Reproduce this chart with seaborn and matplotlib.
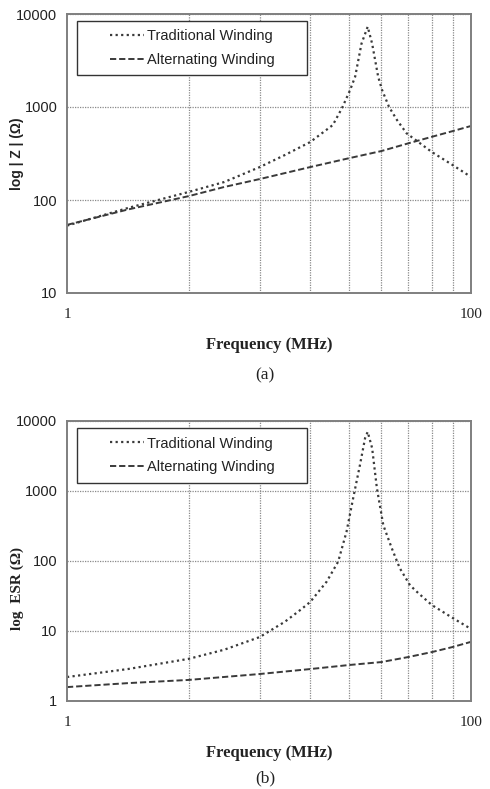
import numpy as np
import pandas as pd
import matplotlib
matplotlib.use("Agg")
import matplotlib.pyplot as plt
from matplotlib.patches import Rectangle
from matplotlib.lines import Line2D
import seaborn as sns

# ---------------- data ----------------
z_trad_freq = [1, 2, 4, 6, 9, 12, 16, 20.7, 23, 25.2, 26.7, 28.7, 30.8,
               32.4, 34.7, 36.3, 39.3, 43, 48, 64, 81, 100]
z_trad_val = [53, 82, 122, 156, 226, 305, 420, 640, 976, 1520, 2120, 4800, 7300,
              4800, 2120, 1520, 1000, 725, 521, 328, 238, 177]

z_alt_freq = [1, 2, 4, 6, 9, 16, 25, 36, 49, 64, 81, 100]
z_alt_val = [54, 79, 110, 138, 168, 226, 282, 336, 407, 478, 550, 625]

esr_trad_freq = [1, 2, 4, 6, 9, 12, 14.3, 16, 19.3, 22, 24.2, 26.1, 28.2, 29.9,
                 30.8, 32.4, 34.2, 36.8, 40.5, 44.4, 49.9, 54.7, 64, 81, 100]
esr_trad_val = [2.2, 2.86, 4.0, 5.4, 8.2, 13.6, 20, 26, 50.7, 98, 262, 790, 2350, 5700,
                7000, 4100, 1100, 325, 153, 79, 45, 35, 23.5, 15.4, 10.7]

esr_alt_freq = [1, 2, 4, 9, 16, 25, 36, 49, 64, 81, 100]
esr_alt_val = [1.58, 1.8, 2.0, 2.43, 2.86, 3.27, 3.6, 4.25, 5.0, 5.9, 7.0]

series_names = ["Traditional Winding", "Alternating Winding"]
x_major_ticks = [1, 100]
x_grid = [4, 9, 16, 25, 36, 49, 64, 81]
top_yticks = [10, 100, 1000, 10000]
bot_yticks = [1, 10, 100, 1000, 10000]

# ---------------- style ----------------
sns.set_style("white")
plt.rcParams["font.family"] = ["Liberation Sans", "DejaVu Sans"]

LINE_C = "#3a3a3a"
GRID_C = "#8a8a8a"
SPINE_C = "#7f7f7f"
SERIF = ["Liberation Serif", "DejaVu Serif"]
SANS = ["Liberation Sans", "DejaVu Sans"]

fig = plt.figure(figsize=(4.9, 7.89), dpi=100)
ax1 = fig.add_axes([67/490, 1-293/789, 404/490, 279/789])
ax2 = fig.add_axes([67/490, 1-701/789, 404/490, 280/789])


def draw(ax, tf, tv, af, av, ylim, yticks):
    dft = pd.DataFrame({"f": tf, "v": tv})
    dfa = pd.DataFrame({"f": af, "v": av})
    sns.lineplot(data=dft, x="f", y="v", ax=ax, color=LINE_C, lw=1.6,
                 linestyle=(0, (1, 1.5)), legend=False)
    sns.lineplot(data=dfa, x="f", y="v", ax=ax, color=LINE_C, lw=1.4,
                 linestyle=(0, (3.2, 1.5)), legend=False)
    ax.set_xscale("log")
    ax.set_yscale("log")
    ax.set_xlim(1, 100)
    ax.set_ylim(*ylim)
    ax.set_xticks(x_major_ticks)
    ax.set_xticklabels([str(t) for t in x_major_ticks], family=SERIF,
                       fontsize=11, color="#222222")
    ax.set_xticks(x_grid, minor=True)
    ax.set_yticks(yticks)
    ax.set_yticklabels([str(t) for t in yticks], family=SANS,
                       fontsize=10.5, color="#222222")
    ax.yaxis.set_minor_locator(matplotlib.ticker.NullLocator())
    ax.tick_params(axis="x", which="minor", length=0)
    ax.tick_params(axis="x", which="major", direction="out", length=4,
                   color=SPINE_C, pad=7)
    ax.tick_params(axis="y", which="major", direction="out", length=4,
                   color=SPINE_C, pad=3)
    ax.grid(True, which="minor", axis="x", color=GRID_C, ls=(0, (1, 1)), lw=0.9)
    ax.grid(True, which="major", axis="y", color=GRID_C, ls=(0, (1, 1)), lw=0.9)
    for s in ax.spines.values():
        s.set_color(SPINE_C)
        s.set_linewidth(1.4)
    ax.set_xlabel("Frequency (MHz)", family=SERIF, fontweight="bold",
                  fontsize=12, color="#222222", labelpad=11)
    # legend box
    ax.add_patch(Rectangle((0.025, 0.78), 0.57, 0.195, transform=ax.transAxes,
                           fill=True, facecolor="white", edgecolor="#333333",
                           lw=1.0, zorder=5))
    handles = [Line2D([], [], color=LINE_C, lw=1.6, linestyle=(0, (1, 1.5))),
               Line2D([], [], color=LINE_C, lw=1.4, linestyle=(0, (3.2, 1.5)))]
    leg = ax.legend(handles, series_names, loc="center",
                    bbox_to_anchor=(0.025 + 0.285, 0.78 + 0.0975),
                    frameon=False, fontsize=10.5, handlelength=2.3,
                    handletextpad=0.2, labelspacing=0.65)
    leg.set_zorder(6)
    for t in leg.get_texts():
        t.set_color("#222222")


draw(ax1, z_trad_freq, z_trad_val, z_alt_freq, z_alt_val, (10, 10000), top_yticks)
draw(ax2, esr_trad_freq, esr_trad_val, esr_alt_freq, esr_alt_val, (1, 10000), bot_yticks)

ax1.set_ylabel("log | Z | (\u03a9)", fontweight="bold",
               fontsize=10, color="#222222")
ax1.yaxis.label.set_fontfamily("Liberation Sans")
ax1.yaxis.set_label_coords(-43/404, 0.5)
ax2.set_ylabel("log  ESR (\u03a9)", fontweight="bold",
               fontsize=11, color="#222222")
ax2.yaxis.label.set_fontfamily("Liberation Serif")
ax2.yaxis.set_label_coords(-43/404, 0.4)

fig.text(265/490, 1-375/789, "(a)", family=SERIF, fontsize=12.5,
         ha="center", va="center", color="#222222")
fig.text(265/490, 1-778/789, "(b)", family=SERIF, fontsize=12.5,
         ha="center", va="center", color="#222222")

fig.savefig("out.png", dpi=100, facecolor="white")
